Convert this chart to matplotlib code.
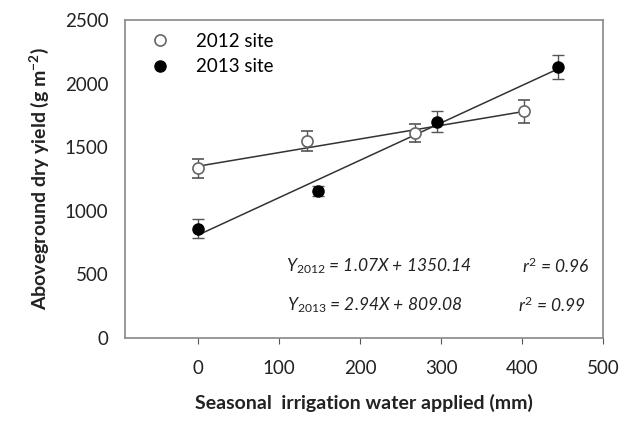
import matplotlib.pyplot as plt
import numpy as np
from matplotlib.lines import Line2D

plt.rcParams['font.family'] = ['Lato', 'DejaVu Sans']
plt.rcParams['mathtext.fontset'] = 'custom'
plt.rcParams['mathtext.rm'] = 'Lato'
plt.rcParams['mathtext.it'] = 'Lato:italic'
plt.rcParams['mathtext.bf'] = 'Lato:bold'

# 2012 site
x2012 = [0, 134, 268, 402]
y2012 = [1335, 1548, 1612, 1783]
e2012 = [75, 80, 70, 90]
# 2013 site
x2013 = [0, 148, 295, 444]
y2013 = [858, 1158, 1700, 2130]
e2013 = [75, 40, 83, 97]

# fitted lines (slope, intercept)
fit2012 = [1.07, 1350.14]
fit2013 = [2.94, 809.08]

xticks = [0, 100, 200, 300, 400, 500]
yticks = [0, 500, 1000, 1500, 2000, 2500]

fig = plt.figure(figsize=(6.29, 4.24), dpi=100)
ax = fig.add_axes([0.199, 0.203, 0.76, 0.75])

gray = '#555555'
ax.errorbar(x2012, y2012, yerr=e2012, fmt='o', mfc='white', mec='#666666', ms=8,
            ecolor='#555555', elinewidth=1, capsize=4, capthick=1, mew=1.2, zorder=3)
ax.errorbar(x2013, y2013, yerr=e2013, fmt='o', mfc='black', mec='black', ms=8,
            ecolor='#555555', elinewidth=1, capsize=4, capthick=1, zorder=3)

xl = np.array([x2012[0], x2012[-1]])
ax.plot(xl, np.polyval(fit2012, xl), color='#333333', lw=1.1, zorder=2)
xl = np.array([x2013[0], x2013[-1]])
ax.plot(xl, np.polyval(fit2013, xl), color='#333333', lw=1.1, zorder=2)

ax.set_xlim(-90, 500)
ax.set_ylim(0, 2500)
ax.set_xticks(xticks)
ax.set_yticks(yticks)
ax.tick_params(axis='x', direction='out', length=4, pad=12, labelsize=13.5,
               color=gray, labelcolor='#222222')
ax.tick_params(axis='y', length=0, pad=12, labelsize=13.5, labelcolor='#222222')
for s in ax.spines.values():
    s.set_color('#888888')
    s.set_linewidth(1.2)

ax.set_xlabel('Seasonal  irrigation water applied (mm)', fontsize=14,
              fontweight='bold', labelpad=12, color='#222222')
ax.set_ylabel('Aboveground dry yield (g m$^{\\mathbf{-2}}$)', fontsize=14,
              fontweight='bold', labelpad=10, color='#222222')

tk = dict(fontsize=12.5, style='italic', color='#222222', va='center')
ax.text(108, 565, '$Y_{2012}$ = 1.07X + 1350.14', **tk)
ax.text(400, 565, '$r^2$ = 0.96', **tk)
ax.text(110, 255, '$Y_{2013}$ = 2.94X + 809.08', **tk)
ax.text(395, 255, '$r^2$ = 0.99', **tk)

handles = [Line2D([], [], ls='none', marker='o', mfc='white', mec='#666666', ms=8, mew=1.2),
           Line2D([], [], ls='none', marker='o', mfc='black', mec='black', ms=8)]
ax.legend(handles, ['2012 site', '2013 site'], loc='upper left', frameon=False,
          fontsize=13.5, handletextpad=1.2, handlelength=1.5, borderaxespad=0.3,
          labelspacing=0.45, bbox_to_anchor=(0.015, 1.0))

fig.savefig('out.png', dpi=100)
